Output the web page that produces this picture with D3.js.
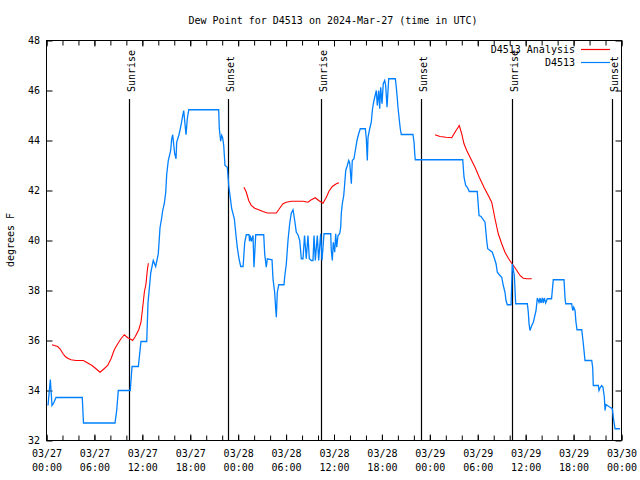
<!DOCTYPE html>
<html><head><meta charset="utf-8">
<script src="https://cdn.jsdelivr.net/npm/d3@7"></script>
<style>
body{margin:0;background:#fff}
svg text{font-family:"DejaVu Sans Mono","Liberation Mono",monospace;font-size:10px;fill:#000}
</style>
</head><body>
<svg id="chart" width="640" height="480"></svg>
<script>
// ---------- data ----------
const titleText = "Dew Point for D4513 on 2024-Mar-27 (time in UTC)";
const yAxisLabel = "degrees F";
const startUTC = Date.UTC(2024, 2, 27, 0, 0);   // 03/27 00:00
const endUTC = Date.UTC(2024, 2, 30, 0, 0);     // 03/30 00:00
const yTicks = [32, 34, 36, 38, 40, 42, 44, 46, 48];
const seriesNames = ["D4513 Analysis", "D4513"];
const seriesColors = ["#ff0000", "#0080ff"];

// observed dew point (hours since 03/27 00:00 UTC, °F)
const stationHours = [0.19,0.48,0.69,0.90,1.19,4.48,4.63,8.58,8.79,8.99,
10.49,10.71,11.50,11.83,12.55,12.71,13.05,13.30,13.37,13.67,
14.00,14.21,14.42,14.55,14.75,14.93,15.05,15.25,15.55,15.68,
15.80,16.05,16.22,16.30,16.59,16.84,17.00,17.18,17.47,17.63,
17.81,21.56,21.64,21.81,21.94,22.06,22.19,22.35,22.64,22.82,
23.19,23.52,23.73,23.89,24.10,24.32,24.61,24.67,24.82,25.02,
25.36,25.42,25.52,25.65,25.86,25.98,26.20,27.20,27.32,27.52,
27.65,28.24,28.36,28.57,28.70,28.78,28.90,29.08,29.74,29.83,
30.03,30.24,30.45,30.65,30.87,31.08,31.28,31.49,31.71,31.91,
32.12,32.31,32.53,32.74,32.91,33.16,33.37,33.50,33.66,33.91,
34.08,34.33,34.50,34.75,35.59,35.66,35.79,35.91,36.09,36.21,
36.34,36.50,36.71,36.84,36.91,37.04,37.22,37.34,37.47,37.67,
37.84,37.97,38.17,38.29,38.50,38.67,38.88,39.09,39.29,39.92,
40.05,40.17,40.26,40.47,40.67,40.80,40.92,41.10,41.30,41.42,
41.60,41.72,41.85,42.01,42.17,42.35,42.47,42.64,42.85,43.68,
43.80,43.93,44.01,44.14,44.30,44.43,45.89,46.02,46.11,46.18,
52.12,52.28,52.49,52.69,52.94,53.94,54.16,54.41,54.91,55.12,
55.25,55.82,56.04,56.29,56.45,56.70,57.00,57.20,57.41,57.54,
57.70,58.17,58.33,58.58,58.75,60.21,60.33,60.42,60.54,60.76,
60.96,61.30,61.46,61.67,61.80,61.92,62.08,62.21,62.33,62.51,
62.71,63.24,63.46,64.80,64.93,65.01,65.76,65.89,66.01,66.18,
66.30,66.43,67.02,67.22,67.43,68.27,68.39,68.47,69.10,69.18,
69.35,69.52,69.68,69.85,69.94,70.06,70.56,70.85,70.97,71.19,
71.81];
const stationValues = [33.4,34.44,33.4,33.5,33.72,33.72,32.7,32.7,33.2,34.0,
34.0,34.96,34.96,35.96,35.96,37.5,38.7,39.1,39.2,38.96,
39.47,40.5,40.9,41.2,41.47,41.93,42.64,43.2,43.6,44.07,
44.23,43.47,43.27,43.93,44.23,44.6,44.9,45.2,44.23,44.87,
45.23,45.23,44.47,43.97,44.2,44.1,43.8,43.0,42.93,42.2,
41.27,40.87,40.2,39.73,39.27,38.96,38.96,39.2,39.93,40.23,
40.23,39.97,40.2,39.96,40.2,38.93,40.23,40.23,39.47,38.93,
39.27,39.23,38.47,37.93,37.27,36.93,37.93,38.23,38.23,38.56,
39.07,40.0,40.67,41.09,41.23,40.8,40.33,40.23,40.0,39.27,
39.27,40.2,39.27,40.2,39.27,39.2,39.2,40.2,39.2,40.2,
39.2,40.27,39.2,40.27,40.27,39.6,39.2,39.93,39.53,40.27,
39.73,40.2,40.27,40.53,41.07,41.47,41.8,42.27,42.8,43.0,
43.2,43.1,42.27,43.2,43.27,43.6,44.0,44.27,44.47,44.47,
44.07,43.2,44.13,44.47,44.73,45.2,45.47,45.73,46.0,45.4,
46.0,45.27,46.13,45.47,46.27,46.4,46.2,45.33,46.47,46.47,
46.13,45.67,45.33,44.93,44.47,44.24,44.24,43.93,43.47,43.23,
43.23,42.53,42.2,42.13,41.96,41.96,41.0,40.96,40.73,40.0,
39.67,39.53,39.33,39.07,38.73,38.63,38.53,38.2,37.93,37.6,
37.43,37.43,39.07,38.6,37.47,37.47,37.13,36.67,36.4,36.6,
36.73,37.2,37.7,37.53,37.7,37.5,37.7,37.5,37.7,37.5,
37.67,37.67,38.43,38.43,37.7,37.47,37.47,37.2,37.33,37.2,
36.73,36.43,36.43,35.87,35.2,35.2,34.93,34.2,34.2,34.0,
34.13,34.2,34.13,33.73,33.2,33.44,33.33,33.27,32.93,32.47,
32.47];

// analysis dew point (null = gap)
const analysisHours = [0.69,0.98,1.40,1.69,2.03,2.35,2.65,3.07,3.69,4.61,
5.16,5.70,6.20,6.70,7.11,7.66,8.08,8.49,8.92,9.33,
9.74,10.17,10.46,10.79,11.12,11.55,11.83,12.05,12.25,12.46,
12.62,12.75, 18.0,
24.73,25.02,25.32,25.64,26.07,26.57,27.11,27.65,28.78,29.20,
29.61,30.03,30.65,32.12,32.74,33.16,33.66,34.08,34.62,35.04,
35.37,35.79,36.29,36.63, 42.0,
48.65,49.27,50.03,50.74,51.28,51.69,51.99,52.28,52.62,53.03,
53.66,54.19,54.78,55.32,55.75,56.16,56.57,57.00,57.41,57.83,
58.25,58.75,59.29,59.70,60.13,60.76];
const analysisValues = [35.83,35.8,35.76,35.67,35.49,35.36,35.29,35.23,35.2,35.2,
35.1,35.0,34.87,34.73,34.84,35.0,35.27,35.63,35.87,36.07,
36.23,36.11,36.07,36.0,36.16,36.43,36.73,37.33,37.93,38.27,
38.8,39.09, null,
42.13,41.93,41.6,41.4,41.29,41.23,41.16,41.1,41.1,41.29,
41.47,41.53,41.57,41.57,41.53,41.63,41.71,41.6,41.49,41.73,
41.97,42.16,42.27,42.31, null,
44.23,44.16,44.13,44.11,44.4,44.6,44.27,43.87,43.6,43.33,
42.93,42.53,42.13,41.8,41.53,40.87,40.27,39.87,39.53,39.29,
39.09,38.87,38.6,38.49,38.47,38.47];

const sunHours = [10.37, 22.76, 34.41, 46.86, 58.33, 70.85];
const sunLabels = ["Sunrise", "Sunset", "Sunrise", "Sunset", "Sunrise", "Sunset"];

// ---------- chart ----------
const toDate = h => new Date(startUTC + h * 3600000);
const svg = d3.select("#chart");
const L = 46.5, R = 621.5, T = 40.5, B = 440.5;

const x = d3.scaleUtc().domain([new Date(startUTC), new Date(endUTC)]).range([L, R]);
const y = d3.scaleLinear().domain([32, 48]).range([B, T]);

const majorTimes = d3.utcHour.every(6).range(new Date(startUTC), new Date(endUTC + 1));
const minorTimes = d3.utcHour.every(2).range(new Date(startUTC), new Date(endUTC + 1));
const fmtDate = d3.utcFormat("%m/%d"), fmtTime = d3.utcFormat("%H:%M");

// minor ticks bottom/top
svg.append("g").attr("transform", `translate(0,${B})`)
  .call(d3.axisBottom(x).tickValues(minorTimes).tickFormat("").tickSizeInner(-5).tickSizeOuter(0))
  .call(g => g.select(".domain").remove());
svg.append("g").attr("transform", `translate(0,${T})`)
  .call(d3.axisTop(x).tickValues(minorTimes).tickFormat("").tickSizeInner(-5).tickSizeOuter(0))
  .call(g => g.select(".domain").remove());

// major bottom axis with two-line labels
const xAxisG = svg.append("g").attr("transform", `translate(0,${B})`)
  .call(d3.axisBottom(x).tickValues(majorTimes).tickSizeInner(-6).tickSizeOuter(0).tickPadding(9).tickFormat(""))
  .call(g => g.select(".domain").remove());
xAxisG.selectAll(".tick text").each(function(d) {
  const t = d3.select(this);
  t.text(null).attr("font-family", null).attr("font-size", null);
  t.append("tspan").attr("x", 0).text(fmtDate(d));
  t.append("tspan").attr("x", 0).attr("dy", 14).text(fmtTime(d));
});
svg.append("g").attr("transform", `translate(0,${T})`)
  .call(d3.axisTop(x).tickValues(majorTimes).tickFormat("").tickSizeInner(-6).tickSizeOuter(0))
  .call(g => g.select(".domain").remove());

// y axes
svg.append("g").attr("transform", `translate(${L},0)`)
  .call(d3.axisLeft(y).tickValues(yTicks).tickFormat(d3.format("d")).tickSizeInner(-6).tickSizeOuter(0).tickPadding(6.5))
  .call(g => g.select(".domain").remove())
  .call(g => g.selectAll("text").attr("font-family", null).attr("font-size", null));
svg.append("g").attr("transform", `translate(${R},0)`)
  .call(d3.axisRight(y).tickValues(yTicks).tickFormat("").tickSizeInner(-6).tickSizeOuter(0))
  .call(g => g.select(".domain").remove());

svg.selectAll(".tick line").attr("stroke", "#000");

// sunrise / sunset lines
const sunG = svg.append("g");
sunHours.forEach((h, i) => {
  const px = Math.round(x(toDate(h))) + 0.5;
  sunG.append("line").attr("x1", px).attr("x2", px).attr("y1", 99).attr("y2", B)
    .attr("stroke", "#000").attr("stroke-width", 1.2);
  sunG.append("text").attr("transform", `translate(${px + 5},92) rotate(-90)`)
    .attr("text-anchor", "start").text(sunLabels[i]);
});

// series
const stationData = stationHours.map((h, i) => ({t: toDate(h), v: stationValues[i]}));
const analysisData = analysisHours.map((h, i) => ({t: toDate(h), v: analysisValues[i]}));
const line = d3.line().defined(d => d.v != null).x(d => x(d.t)).y(d => y(d.v));

svg.append("path").datum(analysisData).attr("d", line)
  .attr("fill", "none").attr("stroke", seriesColors[0]).attr("stroke-width", 1.1);
svg.append("path").datum(stationData).attr("d", line)
  .attr("fill", "none").attr("stroke", seriesColors[1]).attr("stroke-width", 1.3);

// border
svg.append("rect").attr("x", L).attr("y", T).attr("width", R - L).attr("height", B - T)
  .attr("fill", "none").attr("stroke", "#000").attr("stroke-width", 1);

// title and y label
svg.append("text").attr("x", 333).attr("y", 24).attr("text-anchor", "middle").text(titleText);
svg.append("text").attr("transform", "translate(14,240) rotate(-90)")
  .attr("text-anchor", "middle").text(yAxisLabel);

// legend
seriesNames.forEach((name, i) => {
  const yy = 49.5 + i * 13;
  svg.append("text").attr("x", 575).attr("y", yy + 3.5).attr("text-anchor", "end").text(name);
  svg.append("line").attr("x1", 581).attr("x2", 610).attr("y1", yy).attr("y2", yy)
    .attr("stroke", seriesColors[i]).attr("stroke-width", 1.2);
});
</script>
</body></html>
